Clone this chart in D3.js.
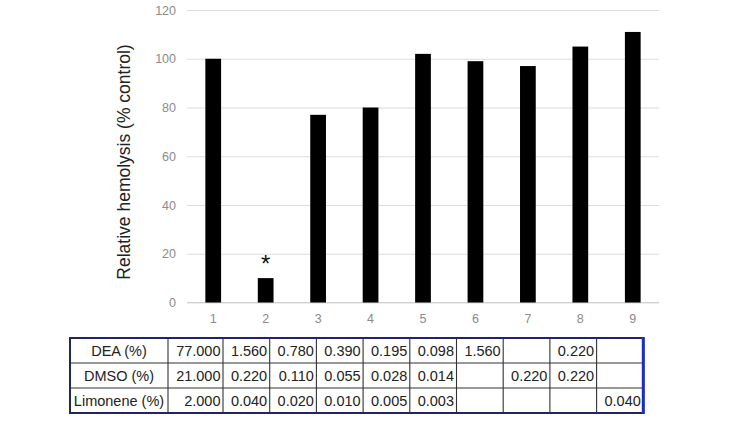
<!DOCTYPE html>
<html>
<head>
<meta charset="utf-8">
<script src="https://cdn.jsdelivr.net/npm/d3@7"></script>
<style>
  html, body { margin: 0; padding: 0; background: #fff; }
  svg { display: block; }
</style>
</head>
<body>
<svg id="chart" width="750" height="422"></svg>
<script>
// ── Datos ────────────────────────────────────────────────────────
const GROUPS = ["1", "2", "3", "4", "5", "6", "7", "8", "9"];
const HEMOLYSIS = [100, 10, 77, 80, 102, 99, 97, 105, 111];
const SIGNIFICANT = ["2"];
const Y_TICKS = [0, 20, 40, 60, 80, 100, 120];

const ROW_LABELS = ["DEA (%)", "DMSO (%)", "Limonene (%)"];
const DEA = ["77.000", "1.560", "0.780", "0.390", "0.195", "0.098", "1.560", "", "0.220", ""];
const DMSO = ["21.000", "0.220", "0.110", "0.055", "0.028", "0.014", "", "0.220", "0.220", ""];
const LIMONENE = ["2.000", "0.040", "0.020", "0.010", "0.005", "0.003", "", "", "", "0.040"];

// ── Layout ───────────────────────────────────────────────────────
const FONT = "Liberation Sans, Arial, sans-serif";
const plot = { left: 187, right: 659, top: 10, bottom: 302.5 };

const svg = d3.select("#chart");
svg.append("rect").attr("width", 750).attr("height", 422).attr("fill", "#fff");

const x = d3.scaleBand().domain(GROUPS).range([plot.left, plot.right]).paddingInner(0.7).paddingOuter(0.35);
const y = d3.scaleLinear().domain([0, 120]).range([plot.bottom, plot.top]);

// gridlines + y tick labels
const yAxis = svg.append("g")
  .attr("transform", `translate(${plot.left},0)`)
  .call(d3.axisLeft(y).tickValues(Y_TICKS).tickSize(-(plot.right - plot.left)).tickPadding(11));
yAxis.select(".domain").remove();
yAxis.selectAll(".tick line").attr("stroke", "#dcdcdc").attr("stroke-width", 1.2);
yAxis.selectAll(".tick text")
  .attr("fill", "#8a8a8a").attr("font-size", 12.5).attr("font-family", FONT);

// baseline
svg.append("line")
  .attr("x1", plot.left).attr("x2", plot.right)
  .attr("y1", y(0)).attr("y2", y(0))
  .attr("stroke", "#d0d0d0").attr("stroke-width", 1.2);

// bars
const data = GROUPS.map((g, i) => ({ g, v: HEMOLYSIS[i] }));
svg.append("g").selectAll("rect")
  .data(data)
  .join("rect")
  .attr("x", d => x(d.g))
  .attr("width", x.bandwidth())
  .attr("y", d => y(d.v))
  .attr("height", d => y(0) - y(d.v))
  .attr("fill", "#000");

// asterisk
svg.append("g").selectAll("text")
  .data(data.filter(d => SIGNIFICANT.includes(d.g)))
  .join("text")
  .attr("x", d => x(d.g) + x.bandwidth() / 2)
  .attr("y", d => y(d.v) - 6)
  .attr("text-anchor", "middle")
  .attr("font-size", 24).attr("font-family", FONT).attr("fill", "#111")
  .text("*");

// x labels
const xAxis = svg.append("g")
  .attr("transform", `translate(0,${plot.bottom})`)
  .call(d3.axisBottom(x).tickSize(0).tickPadding(12));
xAxis.select(".domain").remove();
xAxis.selectAll(".tick text")
  .attr("fill", "#8a8a8a").attr("font-size", 12.5).attr("font-family", FONT);

// y title
svg.append("text")
  .attr("transform", `translate(130,162) rotate(-90)`)
  .attr("text-anchor", "middle")
  .attr("font-size", 17.5).attr("font-family", FONT).attr("fill", "#222")
  .text("Relative hemolysis (% control)");

// ── Tabla ────────────────────────────────────────────────────────
const ROWS = [DEA, DMSO, LIMONENE];
const colWidths = [98, 55].concat(d3.range(9).map(() => 46.7));
const colX = [70];
colWidths.forEach(w => colX.push(colX[colX.length - 1] + w));
const tableTop = 338, rowH = 25;
const tableRight = colX[colX.length - 1];
const tableBottom = tableTop + rowH * ROWS.length;

const table = svg.append("g");

// inner lines
table.selectAll("line.v")
  .data(colX.slice(1, -1))
  .join("line").attr("class", "v")
  .attr("x1", d => d).attr("x2", d => d)
  .attr("y1", tableTop).attr("y2", tableBottom)
  .attr("stroke", "#333").attr("stroke-width", 1.1);
table.selectAll("line.h")
  .data(d3.range(1, ROWS.length))
  .join("line").attr("class", "h")
  .attr("x1", colX[0]).attr("x2", tableRight)
  .attr("y1", d => tableTop + d * rowH).attr("y2", d => tableTop + d * rowH)
  .attr("stroke", "#333").attr("stroke-width", 1.1);

// outer border
table.append("rect")
  .attr("x", colX[0]).attr("y", tableTop)
  .attr("width", tableRight - colX[0]).attr("height", tableBottom - tableTop)
  .attr("fill", "none").attr("stroke", "#23265e").attr("stroke-width", 2);
table.append("line")
  .attr("x1", tableRight).attr("x2", tableRight)
  .attr("y1", tableTop - 1).attr("y2", tableBottom + 1)
  .attr("stroke", "#1c2cc4").attr("stroke-width", 3);

// row labels
table.selectAll("text.label")
  .data(ROW_LABELS)
  .join("text").attr("class", "label")
  .attr("x", (colX[0] + colX[1]) / 2)
  .attr("y", (d, i) => tableTop + i * rowH + rowH / 2)
  .attr("dy", "0.36em")
  .attr("text-anchor", "middle")
  .attr("font-size", 14.5).attr("font-family", FONT).attr("fill", "#222")
  .text(d => d);

// values
ROWS.forEach((row, r) => {
  table.append("g").selectAll("text")
    .data(row)
    .join("text")
    .attr("x", (d, i) => colX[i + 2] - 2.5)
    .attr("y", tableTop + r * rowH + rowH / 2)
    .attr("dy", "0.36em")
    .attr("text-anchor", "end")
    .attr("font-size", 14.5).attr("font-family", FONT).attr("fill", "#222")
    .text(d => d);
});
</script>
</body>
</html>
